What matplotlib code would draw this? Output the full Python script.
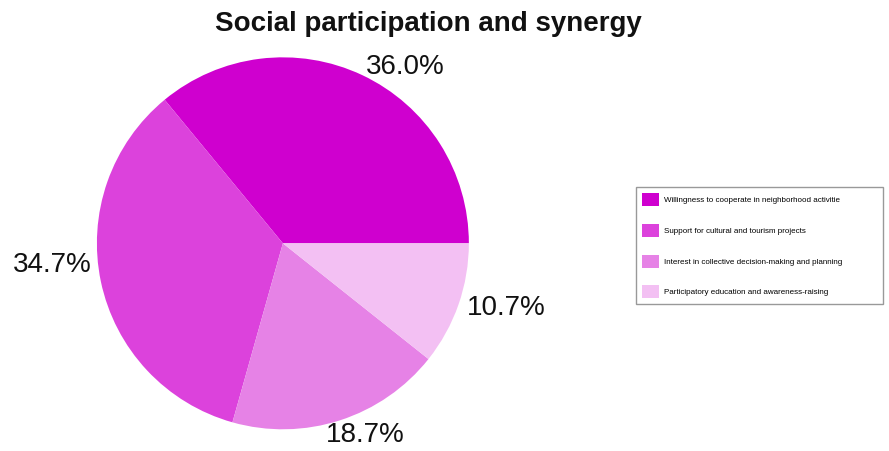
import numpy as np
import matplotlib.pyplot as plt

plt.rcParams['font.family'] = ['Liberation Sans', 'DejaVu Sans']

# slice data
categories = ['Willingness to cooperate in neighborhood activitie',
              'Support for cultural and tourism projects',
              'Interest in collective decision-making and planning',
              'Participatory education and awareness-raising']
shares = [36.0, 34.7, 18.7, 10.7]
colors = ['#cf00cf', '#dc42dc', '#e682e6', '#f3c0f3']

fig = plt.figure(figsize=(8.89, 4.51), dpi=100)
ax = fig.add_axes([0.109, 0.047, 0.4184, 0.827])

wedges, texts = ax.pie(shares, colors=colors, startangle=0, counterclock=True,
                       labels=['%.1f%%' % s for s in shares], labeldistance=1.05,
                       textprops={'fontsize': 20, 'color': '#111111'})
ax.set_xlim(-1, 1)
ax.set_ylim(-1, 1)

# nudge labels a little like the original
texts[1].set_y(texts[1].get_position()[1] + 0.1)
texts[2].set_horizontalalignment('center')
texts[2].set_x(texts[2].get_position()[0] + 0.12)
texts[2].set_y(texts[2].get_position()[1] - 0.03)

fig.text(0.482, 0.947, 'Social participation and synergy', ha='center', va='center',
         fontsize=20, fontweight='bold', color='#111111')

leg = fig.legend(wedges, categories, loc='upper left',
                 bbox_to_anchor=(0.711, 0.33, 0.287, 0.264), bbox_transform=fig.transFigure,
                 mode='expand', fontsize=5.8, handlelength=2.1, handleheight=2.1,
                 labelspacing=2.2, handletextpad=0.6, borderpad=0.75,
                 fancybox=False, edgecolor='#999999', framealpha=1)
leg.get_frame().set_linewidth(1.0)

fig.savefig('out.png', dpi=100)
